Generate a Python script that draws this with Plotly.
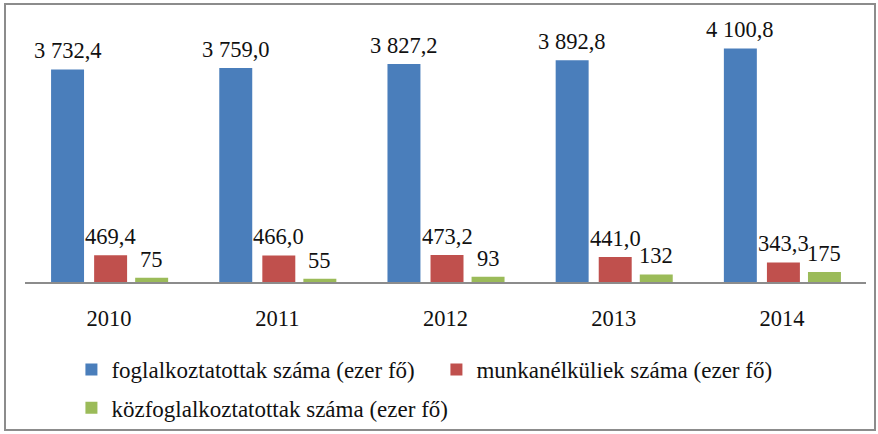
import plotly.graph_objects as go

years = ["2010", "2011", "2012", "2013", "2014"]
employed = [3732.4, 3759.0, 3827.2, 3892.8, 4100.8]
unemployed = [469.4, 466.0, 473.2, 441.0, 343.3]
public_workers = [75, 55, 93, 132, 175]

names = ["foglalkoztatottak száma (ezer fő)",
         "munkanélküliek száma (ezer fő)",
         "közfoglalkoztatottak száma (ezer fő)"]
colors = ["#4A7EBB", "#C0504D", "#9BBB59"]
legend_ids = ["legend", "legend", "legend2"]

def fmt1(v):
    return f"{v:,.1f}".replace(",", "\u00a0").replace(".", ",")

def fmt0(v):
    return f"{v:,.0f}".replace(",", "\u00a0")

series = [employed, unemployed, public_workers]
fmts = [fmt1, fmt1, fmt0]
width = 0.196
offsets = [-0.345, -0.089, 0.155]

FONT = "Times New Roman, Liberation Serif, serif"
FS = 22.5

fig = go.Figure()
for vals, name, col, off, lg in zip(series, names, colors, offsets, legend_ids):
    fig.add_trace(go.Bar(x=years, y=vals, name=name, marker_color=col,
                         marker_line_width=0, width=width, offset=off, legend=lg))

annotations = []
for vals, f, off in zip(series, fmts, offsets):
    for i, v in enumerate(vals):
        annotations.append(dict(x=i + off + width / 2, y=v, xref="x", yref="y",
                                text=f(v), showarrow=False, yanchor="bottom",
                                yshift=4, font=dict(family=FONT, size=FS, color="#111")))

legend_common = dict(orientation="h", xanchor="left", yanchor="top",
                     itemwidth=30, bgcolor="rgba(0,0,0,0)", tracegroupgap=0,
                     font=dict(family=FONT, size=23, color="#111"))

fig.update_layout(
    width=878, height=434,
    margin=dict(l=25, r=12, t=20, b=152, autoexpand=False),
    paper_bgcolor="white", plot_bgcolor="white",
    font=dict(family=FONT, size=FS, color="#111"),
    showlegend=True,
    legend=dict(x=0.0552, y=-0.252, entrywidth=320, entrywidthmode="pixels",
                **legend_common),
    legend2=dict(x=0.0552, y=-0.398, **legend_common),
    annotations=annotations,
    xaxis=dict(type="category", showgrid=False, showline=True, linecolor="#8C8C8C",
               linewidth=1.5, ticks="", ticklabelstandoff=15,
               tickfont=dict(family=FONT, size=FS, color="#111")),
    yaxis=dict(range=[0, 4600], visible=False, showgrid=False, zeroline=False),
    shapes=[dict(type="rect", xref="paper", yref="paper",
                 x0=(5 - 25) / 841, x1=(875 - 25) / 841,
                 y0=(282 - 430) / 262, y1=(282 - 4) / 262,
                 line=dict(color="#8C8C8C", width=2), fillcolor="rgba(0,0,0,0)")],
)

fig.write_html("out.html", config={"displayModeBar": False},
               post_script="document.body.style.margin='0px';")
